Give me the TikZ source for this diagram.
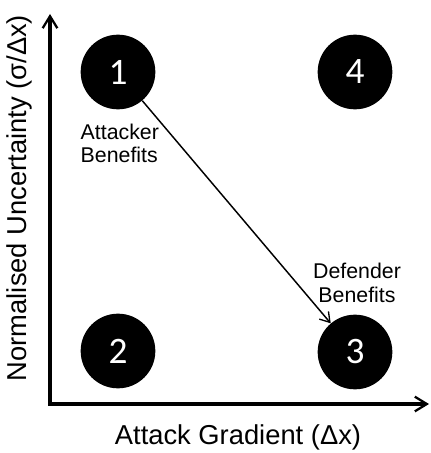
\documentclass[tikz,border=0pt]{standalone}
\usepackage{fontspec}
\setmainfont{Liberation Sans}
\newfontfamily\numfont{Carlito}
\usetikzlibrary{arrows.meta}

\tikzset{
  quad/.style={
    circle,
    fill=black,
    minimum size=56pt,
    inner sep=0pt,
    text=white,
    font=\numfont\fontsize{28}{28}\selectfont
  },
  note/.style={
    align=left,
    font=\fontsize{16}{17.5}\selectfont
  },
  axislabel/.style={
    font=\fontsize{20.5}{22}\selectfont
  }
}

\begin{document}
\begin{tikzpicture}[x=0.75pt, y=-0.75pt]
  \useasboundingbox (0,0) rectangle (430,453);

  % axes
  \coordinate (origin) at (50,404);
  \coordinate (ytop) at (50,14);
  \coordinate (xend) at (429,404);
  \draw[
    line width=2.4pt,
    -{Straight Barb[length=9pt,width=11pt,line width=1.7pt]}
  ] (origin) -- (ytop);
  \draw[
    line width=2.4pt,
    -{Straight Barb[length=9pt,width=11pt,line width=1.7pt]}
  ] ([xshift=-1.2pt]origin) -- (xend);

  \node[axislabel] (xlabel) at (238,437) {Attack Gradient (Δx)};
  \node[axislabel, rotate=90] (ylabel) at (19,198) {Normalised Uncertainty (σ/Δx)};

  % quadrants
  \node[quad] (q1) at (118,72) {1};
  \node[quad] (q4) at (355,72) {4};
  \node[quad] (q2) at (118,351) {2};
  \node[quad] (q3) at (355,352) {3};

  \node[note, anchor=north west] (attacker) at (76,119) {Attacker\\Benefits};
  \node[note, align=center] (defender) at (357,283) {Defender\\Benefits};

  \draw[
    line width=1.1pt,
    -{Straight Barb[length=7pt,width=9pt,line width=1pt]}
  ] (q1) -- (q3);
\end{tikzpicture}
\end{document}
